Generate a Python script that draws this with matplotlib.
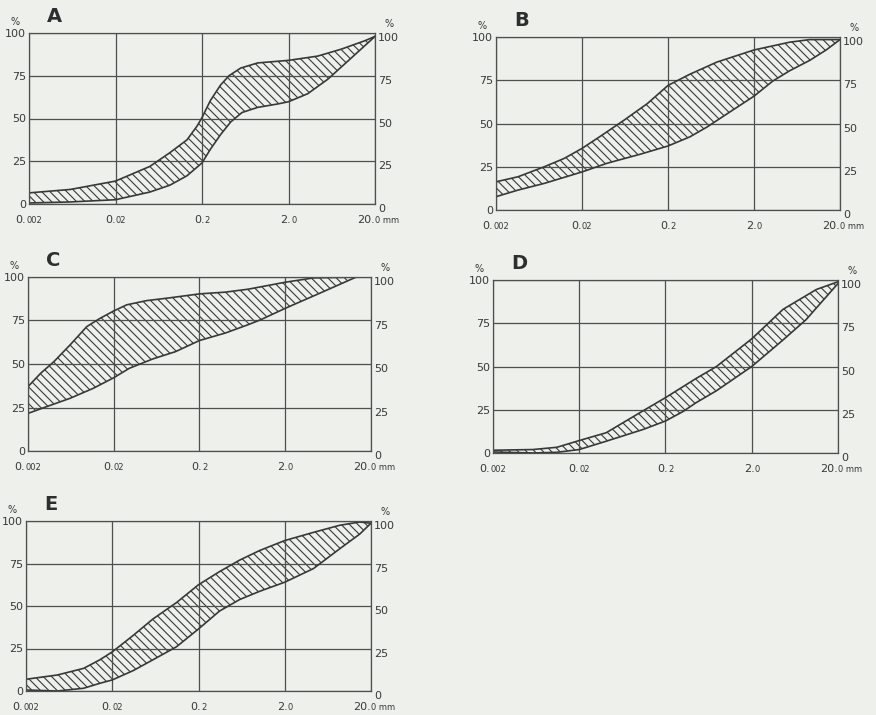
import numpy as np
import matplotlib
matplotlib.use('Agg')
import matplotlib.pyplot as plt
from matplotlib.ticker import NullLocator
from matplotlib.transforms import ScaledTranslation

plt.rcParams['font.family'] = ['DejaVu Sans']
plt.rcParams['hatch.linewidth'] = 0.8

# grain size (mm) on log axis, passing percentage
x_ticks = [0.002, 0.02, 0.2, 2.0, 20.0]
y_ticks = [0, 25, 50, 75, 100]
x_label_parts = [('0.', '002'), ('0.', '02'), ('0.', '2'), ('2.', '0'), ('20.', '0 mm')]

panel_names = ['A', 'B', 'C', 'D', 'E']

a_upper_x = [0.002, 0.006, 0.02, 0.05, 0.085, 0.134, 0.175, 0.2, 0.25, 0.327, 0.41, 0.56, 0.88, 2.0, 4.36, 8.1, 15.3, 20]
a_upper_y = [6.5, 8.5, 13.4, 22, 30, 37.5, 45.5, 50.5, 60.5, 69.5, 75, 79.5, 82.5, 84, 86.5, 90.5, 95.5, 98]
a_lower_x = [0.002, 0.006, 0.02, 0.05, 0.085, 0.134, 0.2, 0.25, 0.327, 0.43, 0.58, 0.88, 1.5, 2.0, 3.34, 5.7, 10.7, 20]
a_lower_y = [0.6, 1.2, 2.5, 7, 11, 16.5, 24, 32, 40.5, 48, 53.5, 56.5, 58.5, 59.8, 64.5, 73, 85.5, 98]

b_upper_x = [0.002, 0.0036, 0.0073, 0.0124, 0.02, 0.032, 0.062, 0.115, 0.2, 0.36, 0.74, 2.0, 5.2, 8.9, 20]
b_upper_y = [16.3, 19.2, 25, 29.8, 35.6, 42.3, 52, 61.5, 72, 78.5, 85.5, 92.5, 97, 98.5, 98.5]
b_lower_x = [0.002, 0.0036, 0.0073, 0.02, 0.039, 0.096, 0.2, 0.36, 0.57, 1.05, 2.0, 3.3, 5.2, 8.9, 13.8, 20]
b_lower_y = [7.7, 11.5, 15.4, 22, 27, 32.3, 37, 42.3, 48, 56.7, 65.8, 74.5, 80.5, 86.5, 92.5, 98.5]

c_upper_x = [0.002, 0.0028, 0.004, 0.0062, 0.0097, 0.0138, 0.02, 0.0283, 0.048, 0.089, 0.2, 0.4, 0.74, 2.0, 4.3, 13.5]
c_upper_y = [37, 44.6, 51.3, 61, 71.5, 76.2, 80.5, 84, 86.4, 88, 90.3, 91.3, 93, 97, 99.5, 100]
c_lower_x = [0.002, 0.0033, 0.0062, 0.0115, 0.02, 0.0303, 0.057, 0.105, 0.2, 0.4, 0.74, 1.03, 2.0, 4.7, 13.5]
c_lower_y = [21.6, 25.5, 30.3, 36, 42.1, 47.5, 52.9, 57.1, 63.5, 67.8, 72.6, 75.4, 82, 90, 100]

d_upper_x = [0.002, 0.0058, 0.011, 0.02, 0.041, 0.11, 0.2, 0.45, 0.78, 2.0, 4.6, 11.2, 20]
d_upper_y = [1.6, 2, 3.3, 7.2, 11.7, 24.4, 32, 43, 50, 66, 83, 94.5, 99]
d_lower_x = [0.002, 0.0058, 0.011, 0.02, 0.041, 0.11, 0.2, 0.32, 0.45, 0.78, 2.0, 4.6, 8.5, 20]
d_lower_y = [0.6, 0, 0.4, 2, 6.8, 13.6, 18.5, 24, 29, 36, 50, 65.3, 77, 98]

e_upper_x = [0.002, 0.0046, 0.0093, 0.0143, 0.02, 0.035, 0.059, 0.111, 0.2, 0.35, 0.6, 1.03, 2.0, 4.3, 8.7, 14.8, 20]
e_upper_y = [6.9, 9.4, 13.3, 18.3, 23, 32.7, 42.3, 52, 62.5, 70.2, 77, 82.7, 88.5, 93.3, 97.5, 99.4, 98.7]
e_lower_x = [0.002, 0.0046, 0.0093, 0.0143, 0.02, 0.035, 0.059, 0.111, 0.2, 0.35, 0.6, 1.03, 2.0, 4.3, 8.7, 14.8, 20]
e_lower_y = [0.6, 0, 1.6, 4.5, 6.5, 12, 18.3, 26, 36.5, 47, 53.8, 58.7, 64, 72, 83.7, 92.3, 98.7]

curves = [
    (a_upper_x, a_upper_y, a_lower_x, a_lower_y),
    (b_upper_x, b_upper_y, b_lower_x, b_lower_y),
    (c_upper_x, c_upper_y, c_lower_x, c_lower_y),
    (d_upper_x, d_upper_y, d_lower_x, d_lower_y),
    (e_upper_x, e_upper_y, e_lower_x, e_lower_y),
]

W, H = 876, 715
# plot boxes in pixels: left, top, right, bottom
boxes = [(29, 33, 375, 204), (496, 37, 840, 210), (28, 277, 371, 451),
         (493, 280, 838, 453), (26, 521, 371, 691)]
x_split = [-1.9, 0, 1.9, 1.9, 0]  # pt offsets for the big/small digit join

bg = '#edf0eb'
ink = '#383838'
hatch = chr(92) * 4  # mpl spaces diagonal hatch at 2/n per inch

fig = plt.figure(figsize=(W / 100, H / 100), dpi=100, facecolor=bg)

for name, (l, t, r, b), (ux, uy, lx, ly) in zip(panel_names, boxes, curves):
    ax = fig.add_axes([l / W, 1 - b / H, (r - l) / W, (b - t) / H])
    ax.set_facecolor('none')
    ax.set_xscale('log')
    ax.set_xlim(0.002, 20)
    ax.set_ylim(0, 100)
    ax.set_xticks(x_ticks)
    ax.xaxis.set_minor_locator(NullLocator())
    ax.set_yticks(y_ticks)
    ax.grid(True, color='#4f4f4f', lw=0.9)
    ax.tick_params(length=0, labelbottom=False, labelleft=True, labelright=True,
                   labelsize=8, labelcolor=ink, pad=2)
    shift = ScaledTranslation(0, -3 / 72, fig.dpi_scale_trans)
    for tk in ax.yaxis.get_major_ticks():
        tk.label2.set_transform(tk.label2.get_transform() + shift)
    for s in ax.spines.values():
        s.set_color('#4f4f4f')
        s.set_linewidth(0.9)

    # hatched band between the two curves
    px = np.concatenate([ux, lx[::-1]])
    py = np.concatenate([uy, ly[::-1]])
    ax.fill(px, py, facecolor='none', edgecolor=ink, hatch=hatch, linewidth=0)
    ax.plot(ux, uy, color=ink, lw=1.2)
    ax.plot(lx, ly, color=ink, lw=1.2)

    for xv, (big, small), dx in zip(x_ticks, x_label_parts, x_split):
        ax.annotate(big, xy=(xv, 0), xycoords=('data', 'axes fraction'),
                    xytext=(dx, -14), textcoords='offset points',
                    ha='right', va='baseline', fontsize=8, color=ink)
        ax.annotate(small, xy=(xv, 0), xycoords=('data', 'axes fraction'),
                    xytext=(dx, -14), textcoords='offset points',
                    ha='left', va='baseline', fontsize=6, color=ink)

    ax.annotate('%', xy=(0, 1), xycoords='axes fraction', xytext=(-10, 8),
                textcoords='offset points', ha='center', va='center',
                fontsize=7, color=ink)
    ax.annotate('%', xy=(1, 1), xycoords='axes fraction', xytext=(10, 6.5),
                textcoords='offset points', ha='center', va='center',
                fontsize=7, color=ink)
    ax.annotate(name, xy=(0, 1), xycoords='axes fraction', xytext=(13, 12),
                textcoords='offset points', ha='left', va='center',
                fontsize=14, fontweight='bold', color='#2e2e2e')

fig.savefig('out.png', dpi=100, facecolor=bg)
